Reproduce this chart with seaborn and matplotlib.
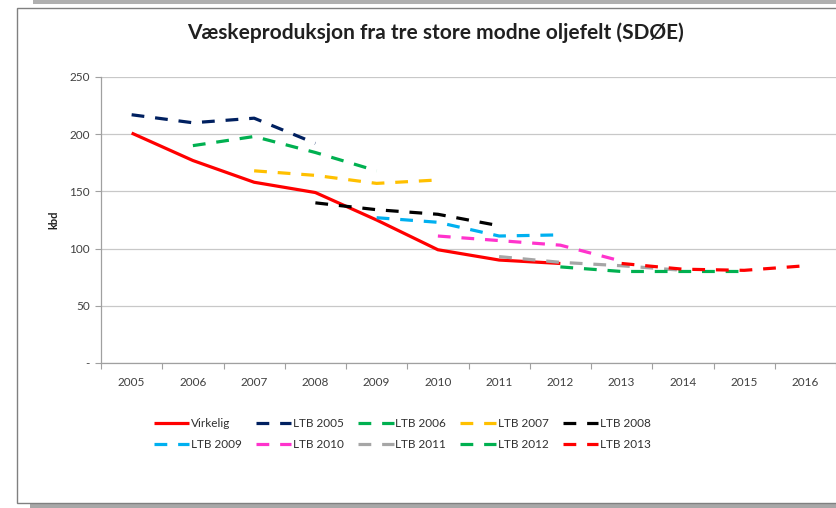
import matplotlib
matplotlib.use("Agg")
import matplotlib.pyplot as plt
import matplotlib.ticker as tck
from matplotlib.patches import Rectangle
import pandas as pd
import seaborn as sns

# data (kbd)
virkelig_years = [2005, 2006, 2007, 2008, 2009, 2010, 2011, 2012]
virkelig = [201, 177, 158, 149, 125, 99, 90, 87]

ltb_2005 = {"years": [2005, 2006, 2007, 2008], "values": [217, 210, 214, 192]}
ltb_2006 = {"years": [2006, 2007, 2008, 2009], "values": [190, 198, 184, 168]}
ltb_2007 = {"years": [2007, 2008, 2009, 2010], "values": [168, 164, 157, 160]}
ltb_2008 = {"years": [2008, 2009, 2010, 2011], "values": [140, 134, 130, 120]}
ltb_2009 = {"years": [2009, 2010, 2011, 2012], "values": [127, 123, 111, 112]}
ltb_2010 = {"years": [2010, 2011, 2012, 2013], "values": [111, 107, 103, 89]}
ltb_2011 = {"years": [2011, 2012, 2013, 2014], "values": [93, 88, 85, 81]}
ltb_2012 = {"years": [2012, 2013, 2014, 2015], "values": [84, 80, 80, 80]}
ltb_2013 = {"years": [2013, 2014, 2015, 2016], "values": [87, 82, 81, 85]}

SERIES = {
    "Virkelig": {"years": virkelig_years, "values": virkelig},
    "LTB 2005": ltb_2005,
    "LTB 2006": ltb_2006,
    "LTB 2007": ltb_2007,
    "LTB 2008": ltb_2008,
    "LTB 2009": ltb_2009,
    "LTB 2010": ltb_2010,
    "LTB 2011": ltb_2011,
    "LTB 2012": ltb_2012,
    "LTB 2013": ltb_2013,
}

COLORS = {
    "Virkelig": "#FF0000",
    "LTB 2005": "#002060",
    "LTB 2006": "#00B050",
    "LTB 2007": "#FFC000",
    "LTB 2008": "#000000",
    "LTB 2009": "#00B0F0",
    "LTB 2010": "#FF33CC",
    "LTB 2011": "#A6A6A6",
    "LTB 2012": "#00B050",
    "LTB 2013": "#FF0000",
}

YEAR_TICKS = list(range(2005, 2017))
Y_TICKS = [0, 50, 100, 150, 200, 250]
Y_TICK_LABELS = ["-", "50", "100", "150", "200", "250"]

TITLE = "Væskeproduksjon fra tre store modne oljefelt (SDØE)"

rows = []
for name, s in SERIES.items():
    for yr, v in zip(s["years"], s["values"]):
        rows.append({"year": yr, "kbd": v, "serie": name})
df = pd.DataFrame(rows)

sns.set_theme(style="white")
plt.rcParams["font.family"] = ["Lato", "DejaVu Sans"]

fig = plt.figure(figsize=(8.36, 5.08), dpi=100)

# chart frame with shadow
fig.patches.append(Rectangle((33 / 836, 1 - 4 / 508), 1, 4 / 508, transform=fig.transFigure,
                             facecolor="#B0B0B0", edgecolor="none", zorder=0))
fig.patches.append(Rectangle((30 / 836, 0), 1, 5 / 508, transform=fig.transFigure,
                             facecolor="#A8A8A8", edgecolor="none", zorder=0))
fig.patches.append(Rectangle((17 / 836, 5 / 508), 1, 495 / 508, transform=fig.transFigure,
                             facecolor="white", edgecolor="#808080", linewidth=1.0, zorder=1))

ax = fig.add_axes([101 / 836, 1 - 363 / 508, 735 / 836, 286 / 508])
ax.set_zorder(2)
ax.patch.set_alpha(0)

order = list(SERIES.keys())
dashes = {k: ("" if k == "Virkelig" else (4, 3.4)) for k in order}
sns.lineplot(data=df, x="year", y="kbd", hue="serie", style="serie",
             hue_order=order, style_order=order, palette=COLORS, dashes=dashes,
             linewidth=2.3, ax=ax, legend=True)
for line in ax.lines:
    line.set_solid_capstyle("butt")
    line.set_dash_capstyle("butt")

ax.set_xlim(2004.5, 2016.5)
ax.set_ylim(0, 250)
ax.set_xticks(YEAR_TICKS)
ax.set_xticklabels([str(y) for y in YEAR_TICKS])
ax.xaxis.set_minor_locator(tck.FixedLocator([y - 0.5 for y in YEAR_TICKS] + [2016.5]))
ax.tick_params(axis="x", which="major", length=0, pad=10, labelsize=8.5, labelcolor="#404040")
ax.tick_params(axis="x", which="minor", length=4, width=0.8, color="#A0A0A0", direction="out", bottom=True)
ax.set_yticks(Y_TICKS)
ax.set_yticklabels(Y_TICK_LABELS)
ax.tick_params(axis="y", length=4, width=0.8, color="#A0A0A0", direction="out", left=True,
               labelsize=8.5, labelcolor="#404040", pad=4)
ax.yaxis.grid(True, color="#C8C8C8", linewidth=0.9)
ax.xaxis.grid(False)
for side in ["top", "right"]:
    ax.spines[side].set_visible(False)
for side in ["left", "bottom"]:
    ax.spines[side].set_color("#A0A0A0")
    ax.spines[side].set_linewidth(0.9)

ax.set_xlabel("")
ax.set_ylabel("kbd", fontsize=8, fontweight="bold", color="#202020", labelpad=7)

fig.text(435 / 836, 1 - 33 / 508, TITLE, ha="center", va="center",
         fontsize=15, fontweight="bold", color="#202020")

# legend fills column by column; reorder so rows read like the reference
handles, labels = ax.get_legend_handles_labels()
ax.get_legend().remove()
lookup = dict(zip(labels, handles))
row1, row2 = order[:5], order[5:]
leg_labels = [lab for pair in zip(row1, row2) for lab in pair]
fig.legend([lookup[l] for l in leg_labels], leg_labels, ncol=5, loc="center left",
           bbox_to_anchor=(143 / 836, 1 - 434 / 508), frameon=False,
           fontsize=8.5, handlelength=3.0, handletextpad=0.15, columnspacing=1.2,
           labelspacing=0.85, labelcolor="#303030")

fig.savefig("out.png", dpi=100)
